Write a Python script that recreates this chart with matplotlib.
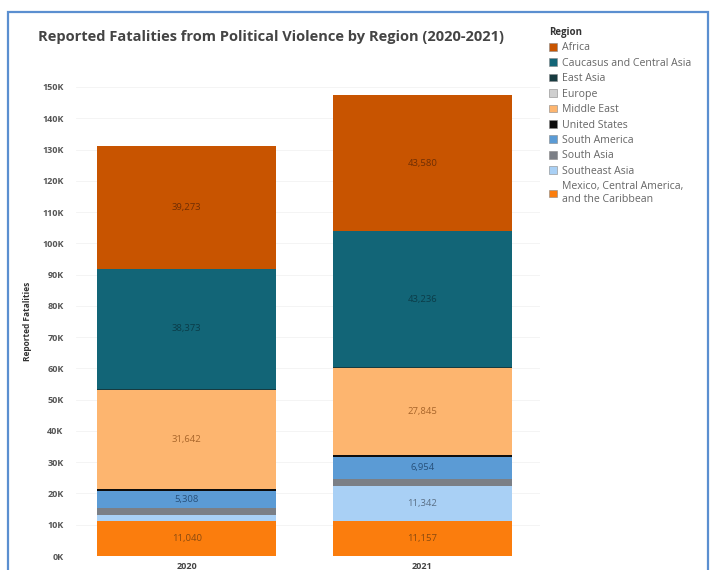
import matplotlib
matplotlib.use("Agg")
import matplotlib.pyplot as plt
from matplotlib.patches import Rectangle, Patch
import numpy as np

plt.rcParams['font.family'] = ['Open Sans', 'DejaVu Sans']

years = ["2020", "2021"]
regions = ["Africa", "Caucasus and Central Asia", "East Asia", "Europe", "Middle East",
           "United States", "South America", "South Asia", "Southeast Asia",
           "Mexico, Central America,\nand the Caribbean"]
colors = ["#c85400", "#126577", "#173b40", "#cfcfcf", "#fdb56f",
          "#0d0d0d", "#5b9bd5", "#7b7f86", "#a9d0f5", "#fb7d0d"]
label_colors = ["#6e2e05", "#0b3c48", "#0b2224", "#777777", "#a8652a",
                "#000000", "#27507a", "#3e4044", "#5a6f85", "#8a4a10"]
values = {
    "Africa": [39273, 43580],
    "Caucasus and Central Asia": [38373, 43236],
    "East Asia": [400, 350],
    "Europe": [120, 120],
    "Middle East": [31642, 27845],
    "United States": [600, 600],
    "South America": [5308, 6954],
    "South Asia": [2400, 2200],
    "Southeast Asia": [2000, 11342],
    "Mexico, Central America,\nand the Caribbean": [11040, 11157],
}
yticks = np.arange(0, 150001, 10000)
ytick_labels = [f"{int(t/1000)}K" for t in yticks]

fig = plt.figure(figsize=(7.13, 5.70), dpi=100)
W, H = 713, 570
ax = fig.add_axes([76 / W, 1 - 556 / H, (540 - 76) / W, (556 - 87) / H])

x = np.arange(len(years))
bottom = np.zeros(len(years))
order = list(range(len(regions)))[::-1]
for i in order:
    r = regions[i]
    v = np.array(values[r], dtype=float)
    ax.bar(x, v, bottom=bottom, width=0.76, color=colors[i], linewidth=0, zorder=2)
    for j in range(len(years)):
        if v[j] > 5000:
            ax.text(x[j], bottom[j] + v[j] / 2, f"{int(v[j]):,}", ha="center", va="center",
                    fontsize=6.8, color=label_colors[i], zorder=3)
    bottom += v

ax.set_xlim(-0.47, 1.5)
ax.set_ylim(0, 150000)
ax.set_yticks(yticks)
ax.set_yticklabels(ytick_labels, fontsize=6.5, color="#555555", fontweight="bold")
ax.set_xticks(x)
ax.set_xticklabels(years, fontsize=6.5, color="#444444", fontweight="bold")
ax.tick_params(axis="both", length=0, pad=4)
ax.tick_params(axis="y", pad=9)
for s in ax.spines.values():
    s.set_visible(False)
ax.grid(axis="y", color="#f3f3f3", linewidth=0.6, zorder=0)
ax.set_axisbelow(True)
ax.set_ylabel("Reported Fatalities", fontsize=6, fontweight="bold", color="#333333", labelpad=7)

fig.text(271 / W, 1 - 37 / H, "Reported Fatalities from Political Violence by Region (2020-2021)",
         ha="center", va="center", fontsize=10.5, fontweight="bold", color="#444444")

handles = [Patch(facecolor=colors[i], edgecolor="#888888", linewidth=0.4) for i in range(len(regions))]
leg = fig.legend(handles, regions, loc="upper left", bbox_to_anchor=(545 / W, 1 - 23 / H),
                 frameon=False, fontsize=7.6, title="Region", handlelength=0.75, handleheight=0.75,
                 handletextpad=0.45, labelspacing=0.42, borderaxespad=0, alignment="left")
leg._legend_box.sep = 3
leg.get_title().set_fontweight("bold")
leg.get_title().set_fontsize(7)
leg.get_title().set_color("#333333")
for t in leg.get_texts():
    t.set_color("#666666")

# screenshot frame
fig.patches.append(Rectangle((8 / W, -0.1), (708 - 8) / W, (1 - 12 / H) + 0.1,
                             transform=fig.transFigure, fill=False, edgecolor="#5b8fd0",
                             linewidth=1.6))

fig.savefig("out.png", dpi=100)
